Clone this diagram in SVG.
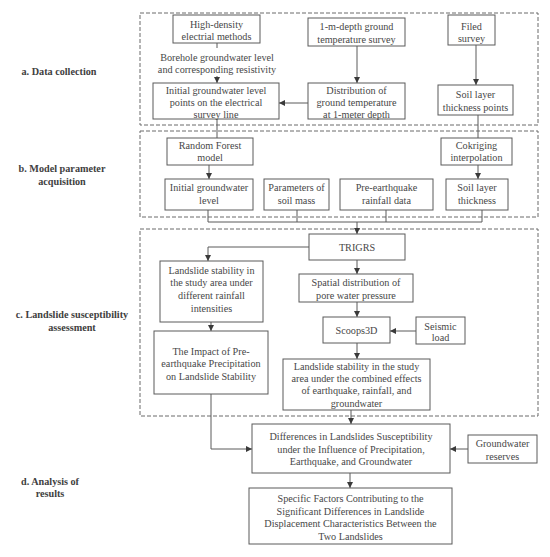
<svg xmlns="http://www.w3.org/2000/svg" width="550" height="557" viewBox="0 0 550 557">
<defs>
<style>
.b{fill:#fff;stroke:#5a5a5a;stroke-width:1}
.d{fill:none;stroke:#6a6a6a;stroke-width:1;stroke-dasharray:4 2}
.t{font-family:'Liberation Serif',serif;font-size:10.2px;fill:#474747;text-anchor:middle}
.l{font-family:'Liberation Serif',serif;font-size:10.2px;font-weight:bold;fill:#404040;text-anchor:middle}
.c{fill:none;stroke:#5a5a5a;stroke-width:1}
</style>
<marker id="ar" viewBox="0 0 6 6" refX="6" refY="3" markerWidth="6" markerHeight="6" markerUnits="userSpaceOnUse" orient="auto">
<path d="M0,0 L6,3 L0,6 z" fill="#3a3a3a"/>
</marker>
</defs>
<rect width="550" height="557" fill="#fff"/>

<g id="sections">
<rect class="d" x="140" y="13" width="398" height="112"/>
<rect class="d" x="140" y="131" width="398" height="86"/>
<rect class="d" x="140" y="229" width="398" height="187"/>
<text class="l" x="59" y="75">a. Data collection</text>
<text class="l" x="62" y="172">b. Model parameter</text>
<text class="l" x="62" y="185">acquisition</text>
<text class="l" x="72" y="318">c. Landslide susceptibility</text>
<text class="l" x="72" y="331">assessment</text>
<text class="l" x="50" y="484.5">d. Analysis of</text>
<text class="l" x="50" y="497">results</text>
</g>

<g id="connectors">
<path class="c" d="M217,43 V48"/>
<path class="c" d="M217,76 V83" marker-end="url(#ar)"/>
<path class="c" d="M357,46 V83" marker-end="url(#ar)"/>
<path class="c" d="M308,103 H279" marker-end="url(#ar)"/>
<path class="c" d="M476,45 V85" marker-end="url(#ar)"/>
<path class="c" d="M217,119 V138"/>
<path class="c" d="M478,115 V138"/>
<path class="c" d="M209,165 V179" marker-end="url(#ar)"/>
<path class="c" d="M478,165 V179" marker-end="url(#ar)"/>
<path class="c" d="M208,210 V222 H482 V210"/>
<path class="c" d="M297,210 V222"/>
<path class="c" d="M386,210 V222"/>
<path class="c" d="M357,222 V234" marker-end="url(#ar)"/>
<path class="c" d="M309,247 H208 V261" marker-end="url(#ar)"/>
<path class="c" d="M357,260 V274" marker-end="url(#ar)"/>
<path class="c" d="M357,302 V317" marker-end="url(#ar)"/>
<path class="c" d="M416,331 H390" marker-end="url(#ar)"/>
<path class="c" d="M357,343 V359" marker-end="url(#ar)"/>
<path class="c" d="M211,322 V331" marker-end="url(#ar)"/>
<path class="c" d="M211,394 V449 H252" marker-end="url(#ar)"/>
<path class="c" d="M351,410 V424" marker-end="url(#ar)"/>
<path class="c" d="M468,449 H450" marker-end="url(#ar)"/>
<path class="c" d="M350,473 V488" marker-end="url(#ar)"/>
</g>

<g id="borehole-label">
<text class="t" x="217" y="60.5">Borehole groundwater level</text>
<text class="t" x="217" y="72.5">and corresponding resistivity</text>
</g>

<g id="high-density">
<rect class="b" x="173" y="15" width="87" height="28"/>
<text class="t" x="216.5" y="27.5">High-density</text>
<text class="t" x="216.5" y="39.5">electrial methods</text>
</g>

<g id="ground-temp">
<rect class="b" x="308" y="18" width="97" height="28"/>
<text class="t" x="356.5" y="30">1-m-depth ground</text>
<text class="t" x="356.5" y="42.5">temperature survey</text>
</g>

<g id="filed-survey">
<rect class="b" x="448" y="15" width="47" height="30"/>
<text class="t" x="471.5" y="29.5">Filed</text>
<text class="t" x="471.5" y="42">survey</text>
</g>

<g id="initial-points">
<rect class="b" x="153" y="83" width="126" height="36"/>
<text class="t" x="216" y="93.5">Initial groundwater level</text>
<text class="t" x="216" y="105.5">points on the electrical</text>
<text class="t" x="216" y="117.5">survey line</text>
</g>

<g id="temp-distribution">
<rect class="b" x="308" y="83" width="97" height="36"/>
<text class="t" x="356.5" y="93.5">Distribution of</text>
<text class="t" x="356.5" y="105.5">ground temperature</text>
<text class="t" x="356.5" y="117.5">at 1-meter depth</text>
</g>

<g id="soil-points">
<rect class="b" x="438" y="85" width="75" height="30"/>
<text class="t" x="475.5" y="98">Soil layer</text>
<text class="t" x="475.5" y="111">thickness points</text>
</g>

<g id="random-forest">
<rect class="b" x="167" y="138" width="86" height="27"/>
<text class="t" x="210" y="148.5">Random Forest</text>
<text class="t" x="210" y="161">model</text>
</g>

<g id="cokriging">
<rect class="b" x="441" y="138" width="71" height="27"/>
<text class="t" x="476.5" y="148.5">Cokriging</text>
<text class="t" x="476.5" y="161">interpolation</text>
</g>

<g id="initial-gw">
<rect class="b" x="165" y="179" width="88" height="31"/>
<text class="t" x="209" y="191">Initial groundwater</text>
<text class="t" x="209" y="203.5">level</text>
</g>

<g id="soil-params">
<rect class="b" x="264" y="179" width="65" height="31"/>
<text class="t" x="296.5" y="191">Parameters of</text>
<text class="t" x="296.5" y="203.5">soil mass</text>
</g>

<g id="rainfall">
<rect class="b" x="340" y="179" width="93" height="31"/>
<text class="t" x="386.5" y="191">Pre-earthquake</text>
<text class="t" x="386.5" y="203.5">rainfall data</text>
</g>

<g id="soil-thickness">
<rect class="b" x="446" y="179" width="62" height="31"/>
<text class="t" x="477" y="191">Soil layer</text>
<text class="t" x="477" y="203.5">thickness</text>
</g>

<g id="trigrs">
<rect class="b" x="309" y="234" width="96" height="26"/>
<text class="t" x="357" y="250.5">TRIGRS</text>
</g>

<g id="stability-rain">
<rect class="b" x="160" y="261" width="103" height="61"/>
<text class="t" x="211.5" y="273.5">Landslide stability in</text>
<text class="t" x="211.5" y="286">the study area under</text>
<text class="t" x="211.5" y="298.5">different rainfall</text>
<text class="t" x="211.5" y="311.5">intensities</text>
</g>

<g id="impact">
<rect class="b" x="154" y="331" width="114" height="63"/>
<text class="t" x="211" y="354.5">The Impact of Pre-</text>
<text class="t" x="211" y="367">earthquake Precipitation</text>
<text class="t" x="211" y="379.5">on Landslide Stability</text>
</g>

<g id="pore-pressure">
<rect class="b" x="299" y="274" width="114" height="28"/>
<text class="t" x="356" y="286">Spatial distribution of</text>
<text class="t" x="356" y="299">pore water pressure</text>
</g>

<g id="scoops3d">
<rect class="b" x="323" y="317" width="67" height="26"/>
<text class="t" x="356.5" y="333.5">Scoops3D</text>
</g>

<g id="seismic">
<rect class="b" x="416" y="317" width="49" height="27"/>
<text class="t" x="440.5" y="329.5">Seismic</text>
<text class="t" x="440.5" y="341">load</text>
</g>

<g id="stability-combined">
<rect class="b" x="283" y="359" width="147" height="51"/>
<text class="t" x="356.5" y="369.5">Landslide stability in the study</text>
<text class="t" x="356.5" y="382">area under the combined effects</text>
<text class="t" x="356.5" y="394">of earthquake, rainfall, and</text>
<text class="t" x="356.5" y="407">groundwater</text>
</g>

<g id="differences">
<rect class="b" x="252" y="424" width="198" height="49"/>
<text class="t" x="351" y="440">Differences in Landslides Susceptibility</text>
<text class="t" x="351" y="452.5">under the Influence of Precipitation,</text>
<text class="t" x="351" y="465">Earthquake, and Groundwater</text>
</g>

<g id="groundwater-reserves">
<rect class="b" x="468" y="435" width="69" height="28"/>
<text class="t" x="502.5" y="447">Groundwater</text>
<text class="t" x="502.5" y="459.5">reserves</text>
</g>

<g id="specific-factors">
<rect class="b" x="249" y="488" width="203" height="56"/>
<text class="t" x="350.5" y="502">Specific Factors Contributing to the</text>
<text class="t" x="350.5" y="514.5">Significant Differences in Landslide</text>
<text class="t" x="350.5" y="527">Displacement Characteristics Between the</text>
<text class="t" x="350.5" y="539.5">Two Landslides</text>
</g>
</svg>
